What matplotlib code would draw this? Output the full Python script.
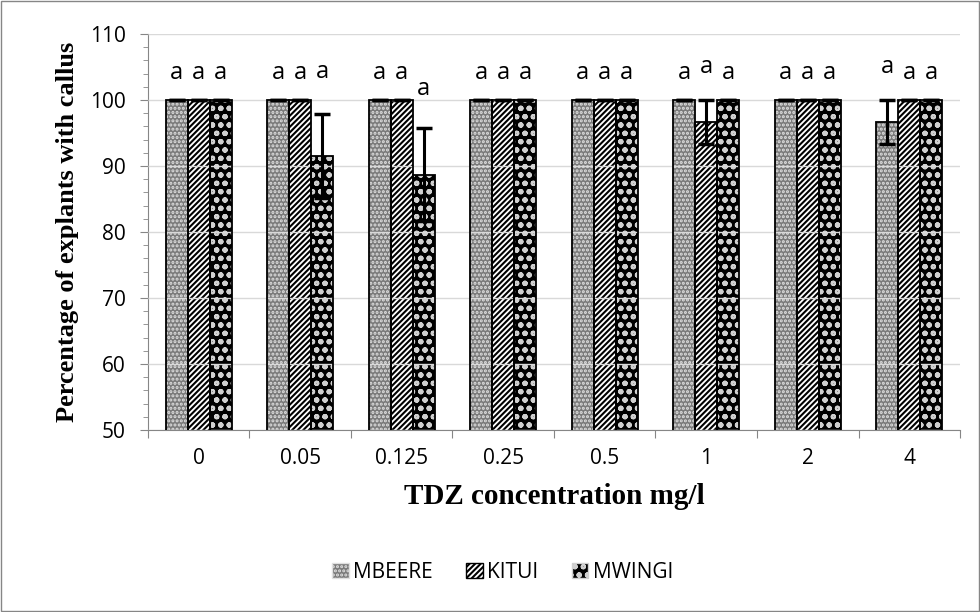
import numpy as np
import matplotlib.pyplot as plt
from matplotlib.patches import Rectangle, Patch

plt.rcParams['hatch.linewidth'] = 1.5

categories = ['0', '0.05', '0.125', '0.25', '0.5', '1', '2', '4']
series = ['MBEERE', 'KITUI', 'MWINGI']
mbeere = [100, 100, 100, 100, 100, 100, 100, 96.67]
kitui = [100, 100, 100, 100, 100, 96.67, 100, 100]
mwingi = [100, 91.5, 88.7, 100, 100, 100, 100, 100]
mbeere_err = [0, 0, 0, 0, 0, 0, 0, 3.33]
kitui_err = [0, 0, 0, 0, 0, 3.33, 0, 0]
mwingi_err = [0, 6.4, 7.0, 0, 0, 0, 0, 0]
letters = [['a'] * 8, ['a'] * 8, ['a'] * 8]
# y position (data units) of each letter
letter_y = [
    [104.1, 104.1, 104.1, 104.1, 104.1, 104.1, 104.1, 105.0],
    [104.1, 104.1, 104.1, 104.1, 104.1, 105.0, 104.1, 104.1],
    [104.1, 104.3, 101.6, 104.1, 104.1, 104.1, 104.1, 104.1],
]

values = [mbeere, kitui, mwingi]
errors = [mbeere_err, kitui_err, mwingi_err]
styles = [
    dict(face='#7a7a7a', hatch='....', hcol='#e0e0e0'),
    dict(face='white', hatch='//////', hcol='black'),
    dict(face='black', hatch='oo', hcol='#d0d0d0'),
]

fig = plt.figure(figsize=(9.8, 6.12), dpi=100)
ax = fig.add_axes([0.151, 0.2974, 0.8286, 0.647])

x = np.arange(len(categories))
w = 0.217
for i, (vals, errs, st) in enumerate(zip(values, errors, styles)):
    pos = x + (i - 1) * w
    ax.bar(pos, vals, w, color=st['face'], hatch=st['hatch'],
           edgecolor=st['hcol'], linewidth=0, zorder=2)
    ax.bar(pos, vals, w, fill=False, edgecolor='black', linewidth=1.3, zorder=3)
    ax.errorbar(pos, vals, yerr=errs, fmt='none', ecolor='black', elinewidth=2.2,
                capsize=5.5, capthick=2.5, zorder=5)
    for j in range(len(categories)):
        ax.text(pos[j], letter_y[i][j], letters[i][j], ha='center', va='center',
                fontsize=17, family='Open Sans', zorder=6)

ax.set_ylim(50, 110)
ax.set_xlim(-0.5, len(categories) - 0.5)
ax.set_yticks(np.arange(50, 111, 10))
ax.set_yticks(np.arange(50, 111, 2), minor=True)
ax.yaxis.grid(True, which='major', color='#d9d9d9', linewidth=1, zorder=4)
ax.set_axisbelow(False)
ax.grid(False, axis='x')

ax.set_xticks(np.arange(-0.5, len(categories), 1))
ax.set_xticklabels([])
ax.set_xticks(x, minor=True)
ax.set_xticklabels(categories, minor=True)
ax.tick_params(axis='x', which='minor', length=0, pad=13, labelsize=15)
ax.tick_params(axis='x', which='major', length=6, color='#868686')
ax.tick_params(axis='y', which='major', length=6, color='#868686', labelsize=15, pad=10)
ax.tick_params(axis='y', which='minor', length=3.5, color='#868686')
for lab in ax.get_xticklabels(minor=True) + ax.get_yticklabels():
    lab.set_family('Open Sans')

for s in ['top', 'right']:
    ax.spines[s].set_visible(False)
for s in ['left', 'bottom']:
    ax.spines[s].set_color('#868686')

ax.set_ylabel('Percentage of explants with callus', family='Liberation Serif',
              fontsize=19, fontweight='bold', labelpad=8)
ax.set_xlabel('TDZ concentration mg/l', family='Liberation Serif',
              fontsize=21, fontweight='bold', labelpad=10)

handles = [Patch(facecolor=st['face'], hatch=st['hatch'], edgecolor=st['hcol'], label=s)
           for st, s in zip(styles, series)]
leg = fig.legend(handles=handles, loc='center', bbox_to_anchor=(0.513, 0.065), ncol=3,
                 frameon=False, prop={'family': 'Open Sans', 'size': 15},
                 handlelength=0.8, handleheight=0.8, handletextpad=0.2, columnspacing=1.6)

fig.patches.append(Rectangle((0.001, 0.001), 0.998, 0.998, transform=fig.transFigure,
                             fill=False, edgecolor='#868686', linewidth=1))

fig.savefig('out.png', dpi=100)
